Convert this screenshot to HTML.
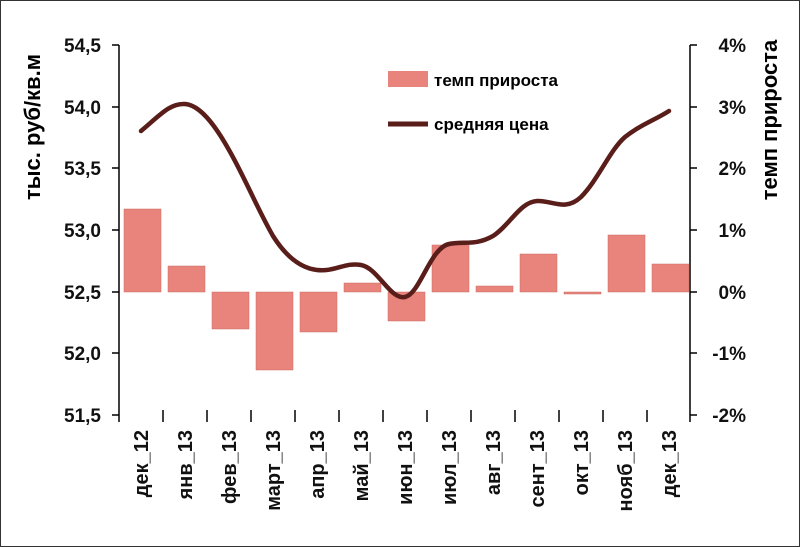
<!DOCTYPE html>
<html><head><meta charset="utf-8"><style>
body{margin:0;background:#fff}
svg{display:block;font-family:"Liberation Sans","Noto Sans CJK SC",sans-serif;font-weight:bold}
</style></head><body>
<svg width="800" height="547" viewBox="0 0 800 547">
<rect x="0.5" y="0.5" width="799" height="546" fill="#fff" stroke="#333"/>
<g stroke="#000" stroke-width="1.5">
<line x1="119" y1="45" x2="119" y2="422"/>
<line x1="690" y1="45" x2="690" y2="422"/>
<line x1="112" y1="45" x2="119" y2="45"/><line x1="112" y1="107" x2="119" y2="107"/><line x1="112" y1="168" x2="119" y2="168"/><line x1="112" y1="230" x2="119" y2="230"/><line x1="112" y1="292" x2="119" y2="292"/><line x1="112" y1="353" x2="119" y2="353"/><line x1="112" y1="415" x2="119" y2="415"/>
<line x1="690" y1="45" x2="697" y2="45"/><line x1="690" y1="107" x2="697" y2="107"/><line x1="690" y1="168" x2="697" y2="168"/><line x1="690" y1="230" x2="697" y2="230"/><line x1="690" y1="292" x2="697" y2="292"/><line x1="690" y1="353" x2="697" y2="353"/><line x1="690" y1="415" x2="697" y2="415"/>
<g><line x1="163" y1="410" x2="163" y2="422"/><line x1="207" y1="410" x2="207" y2="422"/><line x1="251" y1="410" x2="251" y2="422"/><line x1="295" y1="410" x2="295" y2="422"/><line x1="339" y1="410" x2="339" y2="422"/><line x1="383" y1="410" x2="383" y2="422"/><line x1="427" y1="410" x2="427" y2="422"/><line x1="471" y1="410" x2="471" y2="422"/><line x1="515" y1="410" x2="515" y2="422"/><line x1="559" y1="410" x2="559" y2="422"/><line x1="603" y1="410" x2="603" y2="422"/><line x1="647" y1="410" x2="647" y2="422"/></g>
</g>
<g fill="#e8847c" stroke="#c96a62" stroke-width="0.5">
<rect x="124" y="209" width="37" height="83"/>
<rect x="168" y="266" width="37" height="26"/>
<rect x="212" y="292" width="37" height="37"/>
<rect x="256" y="292" width="37" height="78"/>
<rect x="300" y="292" width="37" height="40"/>
<rect x="344" y="283" width="37" height="9"/>
<rect x="388" y="292" width="37" height="29"/>
<rect x="432" y="245" width="37" height="47"/>
<rect x="476" y="286" width="37" height="6"/>
<rect x="520" y="254" width="37" height="38"/>
<rect x="564" y="292" width="37" height="2"/>
<rect x="608" y="235" width="37" height="57"/>
<rect x="652" y="264" width="37" height="28"/>
</g>
<path d="M141,131 C160,115 170,103 185,104 C200,105 215,125 229,150 C245,178 258,210 273,236 C285,255 300,268 317,270 C335,272 345,262 361,265 C378,268 390,300 405,297 C420,294 430,248 449,244 C465,241 475,246 493,236 C510,225 520,202 537,201 C552,200 565,212 581,197 C598,180 610,150 625,137 C640,125 655,120 669,111" fill="none" stroke="#5a1e1a" stroke-width="4.5" stroke-linecap="round"/>
<g font-size="19" text-anchor="end" fill="#111">
<text x="101" y="52">54,5</text><text x="101" y="114">54,0</text><text x="101" y="175">53,5</text><text x="101" y="237">53,0</text><text x="101" y="299">52,5</text><text x="101" y="360">52,0</text><text x="101" y="422">51,5</text>
<text x="746" y="52">4%</text><text x="746" y="114">3%</text><text x="746" y="175">2%</text><text x="746" y="237">1%</text><text x="746" y="299">0%</text><text x="746" y="360">-1%</text><text x="746" y="422">-2%</text>
</g>
<g font-size="20" text-anchor="end" fill="#111">
<text transform="translate(148,430) rotate(-90)">дек_12</text>
<text transform="translate(192,430) rotate(-90)">янв_13</text>
<text transform="translate(236,430) rotate(-90)">фев_13</text>
<text transform="translate(280,430) rotate(-90)">март_13</text>
<text transform="translate(324,430) rotate(-90)">апр_13</text>
<text transform="translate(368,430) rotate(-90)">май_13</text>
<text transform="translate(412,430) rotate(-90)">июн_13</text>
<text transform="translate(456,430) rotate(-90)">июл_13</text>
<text transform="translate(500,430) rotate(-90)">авг_13</text>
<text transform="translate(544,430) rotate(-90)">сент_13</text>
<text transform="translate(588,430) rotate(-90)">окт_13</text>
<text transform="translate(632,430) rotate(-90)">нояб_13</text>
<text transform="translate(676,430) rotate(-90)">дек_13</text>
</g>
<text font-size="22" text-anchor="middle" transform="translate(40,127) rotate(-90)">тыс. руб/кв.м</text>
<text font-size="22" text-anchor="middle" transform="translate(777,120) rotate(-90)">темп прироста</text>
<rect x="388" y="71" width="40" height="16" fill="#e8847c"/>
<text x="434" y="86" font-size="17">темп прироста</text>
<line x1="388" y1="124" x2="428" y2="124" stroke="#5a1e1a" stroke-width="5"/>
<text x="434" y="130" font-size="17">средняя цена</text>
</svg>
</body></html>
